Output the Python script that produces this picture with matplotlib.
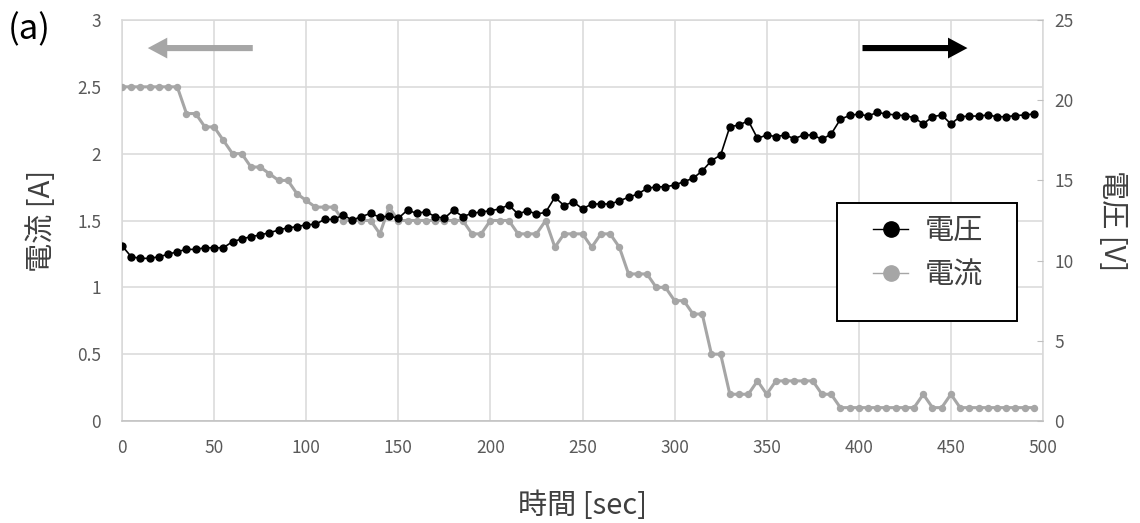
import matplotlib
matplotlib.use('Agg')
import matplotlib.pyplot as plt
from matplotlib.lines import Line2D
from matplotlib.patches import Rectangle

plt.rcParams['font.family'] = ['Noto Sans CJK JP', 'DejaVu Sans']

time_sec = list(range(0, 500, 5))
voltage_v = [
    10.93, 10.24, 10.14, 10.14, 10.24, 10.39, 10.56, 10.70, 10.70, 10.80,
    10.80, 10.80, 11.18, 11.35, 11.49, 11.60, 11.74, 11.90, 12.05, 12.11,
    12.24, 12.26, 12.57, 12.57, 12.84, 12.53, 12.74, 12.95, 12.70, 12.78,
    12.64, 13.15, 12.95, 13.05, 12.74, 12.64, 13.15, 12.74, 12.95, 13.03,
    13.11, 13.22, 13.47, 12.90, 13.11, 12.90, 13.01, 13.95, 13.43, 13.67,
    13.22, 13.53, 13.53, 13.53, 13.72, 13.95, 14.15, 14.50, 14.60, 14.60,
    14.71, 14.92, 15.13, 15.59, 16.23, 16.58, 18.35, 18.45, 18.72, 17.62,
    17.83, 17.73, 17.83, 17.60, 17.83, 17.83, 17.56, 17.89, 18.81, 19.05,
    19.14, 19.01, 19.24, 19.14, 19.08, 19.04, 18.91, 18.52, 18.97, 19.08,
    18.52, 18.97, 19.01, 19.01, 19.08, 18.97, 18.97, 19.04, 19.08, 19.14,
]
current_a = [
    2.5, 2.5, 2.5, 2.5, 2.5, 2.5, 2.5, 2.3, 2.3, 2.2,
    2.2, 2.1, 2.0, 2.0, 1.9, 1.9, 1.85, 1.8, 1.8, 1.7,
    1.65, 1.6, 1.6, 1.6, 1.5, 1.5, 1.5, 1.5, 1.4, 1.6,
    1.5, 1.5, 1.5, 1.5, 1.5, 1.5, 1.5, 1.5, 1.4, 1.4,
    1.5, 1.5, 1.5, 1.4, 1.4, 1.4, 1.5, 1.3, 1.4, 1.4,
    1.4, 1.3, 1.4, 1.4, 1.3, 1.1, 1.1, 1.1, 1.0, 1.0,
    0.9, 0.9, 0.8, 0.8, 0.5, 0.5, 0.2, 0.2, 0.2, 0.3,
    0.2, 0.3, 0.3, 0.3, 0.3, 0.3, 0.2, 0.2, 0.1, 0.1,
    0.1, 0.1, 0.1, 0.1, 0.1, 0.1, 0.1, 0.2, 0.1, 0.1,
    0.2, 0.1, 0.1, 0.1, 0.1, 0.1, 0.1, 0.1, 0.1, 0.1,
]
x_ticks = list(range(0, 501, 50))
left_ticks = [0, 0.5, 1, 1.5, 2, 2.5, 3]
left_labels = ['0', '0.5', '1', '1.5', '2', '2.5', '3']
right_ticks = [0, 5, 10, 15, 20, 25]

GRID = '#d9d9d9'
TXT = '#595959'
GRAY = '#a6a6a6'
LBL = '#404040'

W, H = 1140, 523
fig = plt.figure(figsize=(W / 100, H / 100), dpi=100)
L, R, T, B = 122, 1043, 20, 421
ax = fig.add_axes([L / W, 1 - B / H, (R - L) / W, (B - T) / H])
ax.set_xlim(0, 500)
ax.set_ylim(0, 3)
ax.set_xticks(x_ticks)
ax.set_yticks(left_ticks)
ax.set_yticklabels(left_labels)
ax.grid(True, color=GRID, lw=1.1)
ax.set_axisbelow(True)
for s in ['left', 'right', 'top']:
    ax.spines[s].set_color(GRID)
    ax.spines[s].set_linewidth(1.1)
ax.spines['bottom'].set_color('#bfbfbf')
ax.spines['bottom'].set_linewidth(1.1)
ax.tick_params(axis='both', length=0, labelcolor=TXT, labelsize=12.5)
ax.tick_params(axis='y', pad=15)
ax.tick_params(axis='x', pad=13)

ax.plot(time_sec, current_a, color=GRAY, lw=2.2, marker='o', ms=4.3,
        mfc=GRAY, mec=GRAY, zorder=3)

ax2 = ax.twinx()
ax2.set_ylim(0, 25)
ax2.set_yticks(right_ticks)
for s in ax2.spines.values():
    s.set_visible(False)
ax2.tick_params(axis='y', length=4, direction='in', color='#bfbfbf',
                labelcolor=TXT, labelsize=12.5, pad=8)
ax2.plot(time_sec, voltage_v, color='black', lw=1.2, marker='o', ms=5,
         mfc='black', mec='black', zorder=4)

ax.set_ylabel('電流 [A]', fontsize=21, color=LBL)
ax.yaxis.set_label_coords(-0.071, 0.5)
ax2.set_ylabel('電圧 [V]', fontsize=21, color=LBL, rotation=270)
ax2.yaxis.set_label_coords(1.091, 0.5)
fig.text((L + R) / 2 / W, 1 - 506 / H, '時間 [sec]', fontsize=21,
         color=LBL, ha='center', va='center')
fig.text(8 / W, 1 - 30 / H, '(a)', fontsize=25, color='black',
         ha='left', va='center')

# direction arrows
ax.annotate('', xy=(0.025, 0.93), xytext=(0.145, 0.93), xycoords='axes fraction',
            arrowprops=dict(arrowstyle='simple,head_length=0.7,head_width=0.75,tail_width=0.22',
                            fc=GRAY, ec='none', mutation_scale=20))
ax.annotate('', xy=(0.921, 0.93), xytext=(0.801, 0.93), xycoords='axes fraction',
            arrowprops=dict(arrowstyle='simple,head_length=0.7,head_width=0.75,tail_width=0.22',
                            fc='black', ec='none', mutation_scale=20))

# legend
bx0 = (837 - L) / (R - L)
by0 = (B - 321) / (B - T)
bw = (1017 - 837) / (R - L)
bh = (321 - 203) / (B - T)
ax2.add_patch(Rectangle((bx0, by0), bw, bh, transform=ax2.transAxes,
                        fill=True, fc='white', ec='black', lw=1.4, zorder=5))
handles = [Line2D([], [], color='black', lw=1, marker='o', ms=11, mfc='black', mec='black'),
           Line2D([], [], color=GRAY, lw=1, marker='o', ms=11, mfc=GRAY, mec=GRAY)]
leg = ax2.legend(handles, ['電圧', '電流'], loc='upper left',
                 bbox_to_anchor=(bx0 + 0.03, by0 + bh - 0.01), frameon=False,
                 fontsize=21, handlelength=1.2, handletextpad=0.55,
                 labelspacing=0.5, borderaxespad=0, borderpad=0.3)
leg.set_zorder(6)
for t in leg.get_texts():
    t.set_color(LBL)

fig.savefig('out.png', dpi=100)
